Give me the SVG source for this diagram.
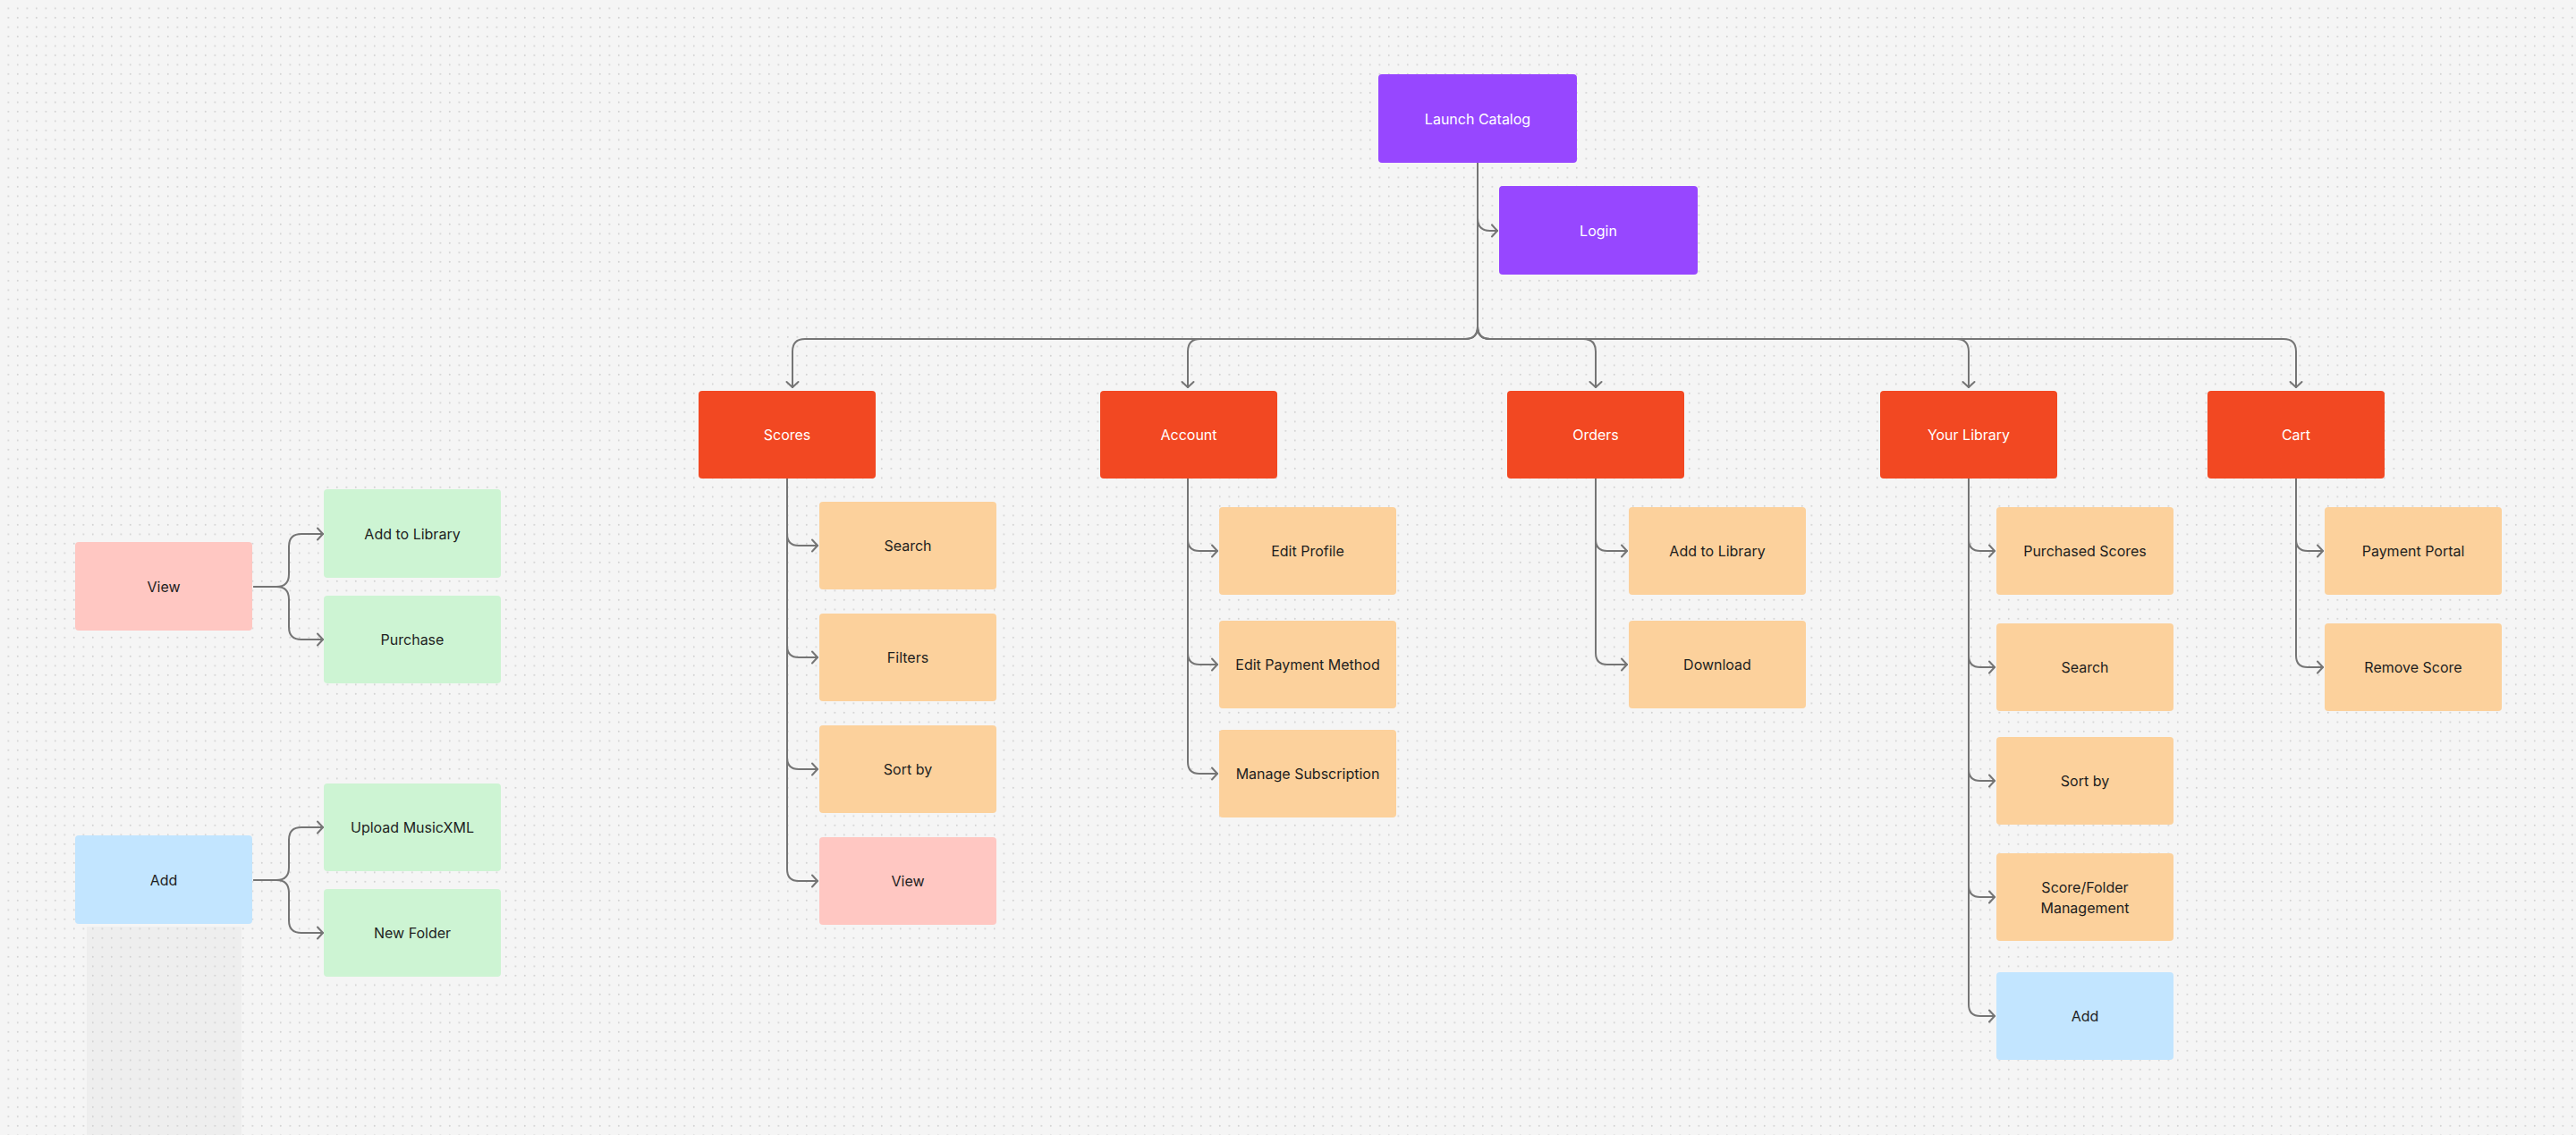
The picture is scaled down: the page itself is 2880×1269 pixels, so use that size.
<svg xmlns="http://www.w3.org/2000/svg" width="2880" height="1269" viewBox="0 0 2880 1269">
<style>
.bx{rx:4px;}
.purple{fill:#9747FF;}
.red{fill:#F24822;}
.orange{fill:#FCD19C;}
.pink{fill:#FFC7C2;}
.green{fill:#CDF4D3;}
.blue{fill:#C2E5FF;}
.t{font-family:Inter,"Liberation Sans",sans-serif;font-size:16px;text-anchor:middle;fill:#1E1E1E;}
.w{fill:#FFFFFF;}
.c{fill:none;stroke:#757575;stroke-width:2;stroke-linecap:round;stroke-linejoin:round;marker-end:url(#arr);}
.c2{fill:none;stroke:#757575;stroke-width:2;stroke-linecap:round;stroke-linejoin:round;}
</style>
<defs>
<pattern id="dots" patternUnits="userSpaceOnUse" width="10.5" height="10.5">
<circle cx="9.3" cy="9.3" r="0.9" fill="#CDCDCD"/>
</pattern>
<marker id="arr" markerUnits="userSpaceOnUse" viewBox="-10 -10 20 20" markerWidth="20" markerHeight="20" refX="0" refY="0" orient="auto" overflow="visible">
<path d="M-6,-6.5 L0,0 L-6,6.5" fill="none" stroke="#757575" stroke-width="2" stroke-linecap="round" stroke-linejoin="round"/>
</marker>
</defs>
<rect x="0" y="0" width="2880" height="1269" fill="#F5F5F5"/>
<rect x="97" y="1036" width="173" height="233" fill="#EEEEEE"/>
<rect x="0" y="0" width="2880" height="1269" fill="url(#dots)"/>

<g id="connectors">
<!-- Launch Catalog -->
<path class="c" d="M1652,182 V244 Q1652,258 1666,258 H1674"/>
<path class="c" d="M1652,182 V365 Q1652,379 1638,379 H900 Q886,379 886,393 V433"/>
<path class="c" d="M1652,182 V365 Q1652,379 1638,379 H1342 Q1328,379 1328,393 V433"/>
<path class="c" d="M1652,182 V365 Q1652,379 1666,379 H1770 Q1784,379 1784,393 V433"/>
<path class="c" d="M1652,182 V365 Q1652,379 1666,379 H2187 Q2201,379 2201,393 V433"/>
<path class="c" d="M1652,182 V365 Q1652,379 1666,379 H2553 Q2567,379 2567,393 V433"/>
<!-- Scores -->
<path class="c" d="M880,535 V597 Q880,610 893,610 H914"/>
<path class="c" d="M880,535 V722 Q880,735 893,735 H914"/>
<path class="c" d="M880,535 V847 Q880,860 893,860 H914"/>
<path class="c" d="M880,535 V972 Q880,985 893,985 H914"/>
<!-- Account -->
<path class="c" d="M1328,535 V603 Q1328,616 1341,616 H1361"/>
<path class="c" d="M1328,535 V730 Q1328,743 1341,743 H1361"/>
<path class="c" d="M1328,535 V852 Q1328,865 1341,865 H1361"/>
<!-- Orders -->
<path class="c" d="M1784,535 V603 Q1784,616 1797,616 H1819"/>
<path class="c" d="M1784,535 V730 Q1784,743 1797,743 H1819"/>
<!-- Your Library -->
<path class="c" d="M2201,535 V603 Q2201,616 2214,616 H2230"/>
<path class="c" d="M2201,535 V733 Q2201,746 2214,746 H2230"/>
<path class="c" d="M2201,535 V860 Q2201,873 2214,873 H2230"/>
<path class="c" d="M2201,535 V990 Q2201,1003 2214,1003 H2230"/>
<path class="c" d="M2201,535 V1123 Q2201,1136 2214,1136 H2230"/>
<!-- Cart -->
<path class="c" d="M2567,535 V603 Q2567,616 2580,616 H2597"/>
<path class="c" d="M2567,535 V733 Q2567,746 2580,746 H2597"/>
<!-- View (left) -->
<path class="c" d="M284,656 H309 Q323,656 323,642 V611 Q323,597 337,597 H361"/>
<path class="c" d="M284,656 H309 Q323,656 323,670 V701 Q323,715 337,715 H361"/>
<!-- Add (left) -->
<path class="c" d="M284,984 H309 Q323,984 323,970 V939 Q323,925 337,925 H361"/>
<path class="c" d="M284,984 H309 Q323,984 323,998 V1029 Q323,1043 337,1043 H361"/>
</g>

<g id="launch-catalog"><rect class="bx purple" x="1541" y="83" width="222" height="99"/><text class="t w" x="1652" y="138.5">Launch Catalog</text></g>
<g id="login"><rect class="bx purple" x="1676" y="208" width="222" height="99"/><text class="t w" x="1787" y="263.5">Login</text></g>

<g id="scores"><rect class="bx red" x="781" y="437" width="198" height="98"/><text class="t w" x="880" y="492">Scores</text></g>
<g id="account"><rect class="bx red" x="1230" y="437" width="198" height="98"/><text class="t w" x="1329" y="492">Account</text></g>
<g id="orders"><rect class="bx red" x="1685" y="437" width="198" height="98"/><text class="t w" x="1784" y="492">Orders</text></g>
<g id="your-library"><rect class="bx red" x="2102" y="437" width="198" height="98"/><text class="t w" x="2201" y="492">Your Library</text></g>
<g id="cart"><rect class="bx red" x="2468" y="437" width="198" height="98"/><text class="t w" x="2567" y="492">Cart</text></g>

<g id="scores-search"><rect class="bx orange" x="916" y="561" width="198" height="98"/><text class="t" x="1015" y="616">Search</text></g>
<g id="scores-filters"><rect class="bx orange" x="916" y="686" width="198" height="98"/><text class="t" x="1015" y="741">Filters</text></g>
<g id="scores-sortby"><rect class="bx orange" x="916" y="811" width="198" height="98"/><text class="t" x="1015" y="866">Sort by</text></g>
<g id="scores-view"><rect class="bx pink" x="916" y="936" width="198" height="98"/><text class="t" x="1015" y="991">View</text></g>

<g id="edit-profile"><rect class="bx orange" x="1363" y="567" width="198" height="98"/><text class="t" x="1462" y="622">Edit Profile</text></g>
<g id="edit-payment"><rect class="bx orange" x="1363" y="694" width="198" height="98"/><text class="t" x="1462" y="749">Edit Payment Method</text></g>
<g id="manage-subscription"><rect class="bx orange" x="1363" y="816" width="198" height="98"/><text class="t" x="1462" y="871">Manage Subscription</text></g>

<g id="orders-add-library"><rect class="bx orange" x="1821" y="567" width="198" height="98"/><text class="t" x="1920" y="622">Add to Library</text></g>
<g id="orders-download"><rect class="bx orange" x="1821" y="694" width="198" height="98"/><text class="t" x="1920" y="749">Download</text></g>

<g id="purchased-scores"><rect class="bx orange" x="2232" y="567" width="198" height="98"/><text class="t" x="2331" y="622">Purchased Scores</text></g>
<g id="library-search"><rect class="bx orange" x="2232" y="697" width="198" height="98"/><text class="t" x="2331" y="752">Search</text></g>
<g id="library-sortby"><rect class="bx orange" x="2232" y="824" width="198" height="98"/><text class="t" x="2331" y="879">Sort by</text></g>
<g id="score-folder-management"><rect class="bx orange" x="2232" y="954" width="198" height="98"/><text class="t" x="2331" y="997.5">Score/Folder</text><text class="t" x="2331" y="1020.5">Management</text></g>
<g id="library-add"><rect class="bx blue" x="2232" y="1087" width="198" height="98"/><text class="t" x="2331" y="1142">Add</text></g>

<g id="payment-portal"><rect class="bx orange" x="2599" y="567" width="198" height="98"/><text class="t" x="2698" y="622">Payment Portal</text></g>
<g id="remove-score"><rect class="bx orange" x="2599" y="697" width="198" height="98"/><text class="t" x="2698" y="752">Remove Score</text></g>

<g id="view"><rect class="bx pink" x="84" y="606" width="198" height="99"/><text class="t" x="183" y="661.5">View</text></g>
<g id="view-add-library"><rect class="bx green" x="362" y="547" width="198" height="99"/><text class="t" x="461" y="602.5">Add to Library</text></g>
<g id="view-purchase"><rect class="bx green" x="362" y="666" width="198" height="98"/><text class="t" x="461" y="721">Purchase</text></g>

<g id="add"><rect class="bx blue" x="84" y="934" width="198" height="99"/><text class="t" x="183" y="989.5">Add</text></g>
<g id="upload-musicxml"><rect class="bx green" x="362" y="876" width="198" height="98"/><text class="t" x="461" y="931">Upload MusicXML</text></g>
<g id="new-folder"><rect class="bx green" x="362" y="994" width="198" height="98"/><text class="t" x="461" y="1049">New Folder</text></g>
</svg>
